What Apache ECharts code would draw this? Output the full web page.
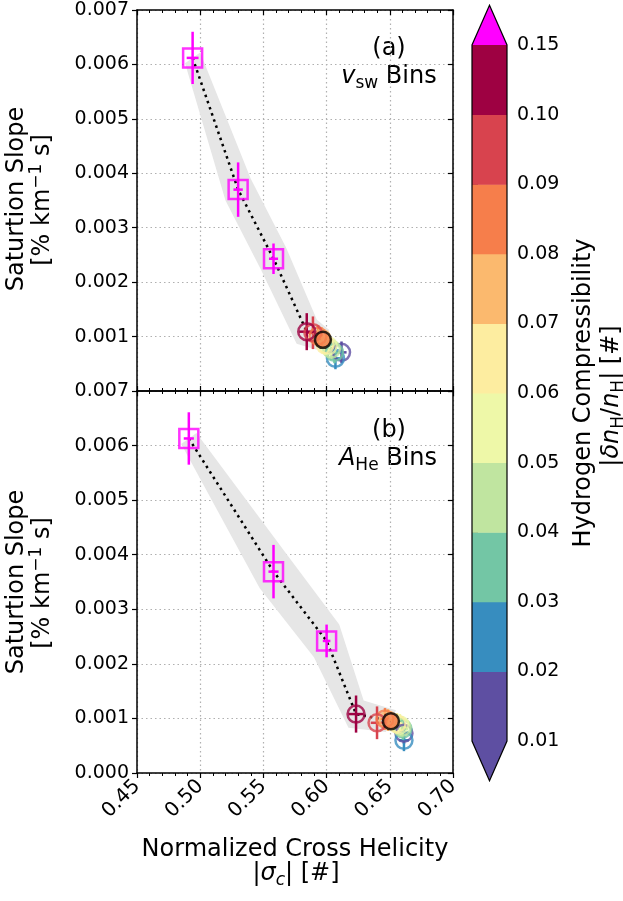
<!DOCTYPE html>
<html>
<head>
<meta charset="utf-8">
<script src="https://cdn.jsdelivr.net/npm/echarts@6/dist/echarts.min.js"></script>
<style>html,body{margin:0;padding:0;background:#fff}#chart{width:623px;height:901px}</style>
</head>
<body>
<div id="chart"></div>
<script>
// compressibility colour bins (colorbar)
var cbBounds = [0.01, 0.02, 0.03, 0.04, 0.05, 0.06, 0.07, 0.08, 0.09, 0.10, 0.15];
var cbLabels = ['0.01', '0.02', '0.03', '0.04', '0.05', '0.06', '0.07', '0.08', '0.09', '0.10', '0.15'];
var cbColors = ['#5e4fa2', '#378dbf', '#73c6a5', '#c0e5a0', '#eef8a8', '#fdeda0', '#fbb96e', '#f67e4b', '#d8434e', '#9e0142'];
var overColor = '#ff00ff';

// (a) vsw bins: squares (compressibility > 0.15)
var aSqX = [0.494, 0.530, 0.558];
var aSqY = [0.00612, 0.00370, 0.00243];
var aSqXErr = [0.0047, 0.0037, 0.0036];
var aSqYErr = [0.00048, 0.00050, 0.00028];
// (a) circles
var aCircC = [0.015, 0.025, 0.035, 0.045, 0.055, 0.065, 0.075, 0.085, 0.095, 0.12];
var aCircX = [0.6118, 0.6070, 0.6062, 0.6038, 0.6013, 0.5989, 0.5961, 0.5932, 0.5892, 0.5843];
var aCircY = [0.00071, 0.00060, 0.00071, 0.00077, 0.00083, 0.00085, 0.00097, 0.00101, 0.00107, 0.00109];
var aCircXErr = [0.004, 0.004, 0.004, 0.004, 0.004, 0.004, 0.004, 0.004, 0.005, 0.006];
var aCircYErr = [0.0002, 0.0002, 0.0002, 0.0002, 0.0002, 0.0002, 0.0002, 0.0002, 0.0003, 0.00034];
var aMean = [0.5971, 0.00094];
// (a) fit line and shaded band
var aPathX = [0.494, 0.530, 0.558, 0.5843, 0.5971];
var aPathY = [0.00612, 0.00370, 0.00243, 0.00109, 0.00094];
var aBandX = [0.006, 0.010, 0.010, 0.008, 0.005];
var aBandY = [0.0001, 0.0002, 0.0002, 0.00022, 0.00018];

// (b) AHe bins
var bSqX = [0.491, 0.558, 0.600];
var bSqY = [0.00613, 0.00369, 0.00242];
var bSqXErr = [0.004, 0.004, 0.003];
var bSqYErr = [0.00048, 0.00049, 0.00030];
var bCircC = [0.015, 0.025, 0.035, 0.045, 0.055, 0.065, 0.075, 0.085, 0.095, 0.12];
var bCircX = [0.6612, 0.6612, 0.6604, 0.6596, 0.6580, 0.6557, 0.6486, 0.6462, 0.6399, 0.6233];
var bCircY = [0.00073, 0.00060, 0.00081, 0.00084, 0.00088, 0.00090, 0.00097, 0.00099, 0.00092, 0.00108];
var bCircXErr = [0.004, 0.004, 0.004, 0.004, 0.004, 0.004, 0.004, 0.004, 0.005, 0.006];
var bCircYErr = [0.0002, 0.0002, 0.0002, 0.0002, 0.0002, 0.0002, 0.0002, 0.0002, 0.0003, 0.00034];
var bMean = [0.6509, 0.00095];
var bPathX = [0.491, 0.558, 0.600, 0.6233, 0.6509];
var bPathY = [0.00613, 0.00369, 0.00242, 0.00108, 0.00095];
var bBandX = [0.006, 0.011, 0.010, 0.006, 0.004];
var bBandY = [0.0001, 0.0003, 0.0003, 0.00025, 0.0002];

var FONT = 'DejaVu Sans';

function compColor(v) {
    if (v > cbBounds[cbBounds.length - 1]) return overColor;
    for (var i = 0; i < cbColors.length; i++) {
        if (v < cbBounds[i + 1]) return cbColors[i];
    }
    return cbColors[cbColors.length - 1];
}

function bandSeries(ax, px, py, bx, by) {
    return {
        type: 'custom', xAxisIndex: ax, yAxisIndex: ax, z: 1, silent: true,
        data: [[0]],
        renderItem: function (params, api) {
            var pts = [];
            for (var i = 0; i < px.length; i++) pts.push(api.coord([px[i] + bx[i], py[i] + by[i]]));
            for (var j = px.length - 1; j >= 0; j--) pts.push(api.coord([px[j] - bx[j], py[j] - by[j]]));
            return { type: 'polygon', shape: { points: pts }, style: { fill: '#e6e6e6' } };
        }
    };
}

function lineSeries(ax, px, py) {
    return {
        type: 'line', xAxisIndex: ax, yAxisIndex: ax, z: 2, symbol: 'none', silent: true,
        data: px.map(function (x, i) { return [x, py[i]]; }),
        lineStyle: { color: '#000', width: 2.5, type: [2.5, 4], cap: 'butt' }
    };
}

function errSeries(ax, xs, ys, xe, ye, cols) {
    return {
        type: 'custom', xAxisIndex: ax, yAxisIndex: ax, z: 3, silent: true,
        data: xs.map(function (x, i) { return [x, ys[i], xe[i], ye[i], i]; }),
        renderItem: function (params, api) {
            var x = api.value(0), y = api.value(1), dx = api.value(2), dy = api.value(3);
            var c = cols[api.value(4)];
            var p1 = api.coord([x, y - dy]), p2 = api.coord([x, y + dy]);
            var p3 = api.coord([x - dx, y]), p4 = api.coord([x + dx, y]);
            return {
                type: 'group', children: [
                    { type: 'line', shape: { x1: p1[0], y1: p1[1], x2: p2[0], y2: p2[1] }, style: { stroke: c, lineWidth: 2.5 } },
                    { type: 'line', shape: { x1: p3[0], y1: p3[1], x2: p4[0], y2: p4[1] }, style: { stroke: c, lineWidth: 2.5 } }
                ]
            };
        }
    };
}

function markerSeries(ax, xs, ys, cols, symbol, size) {
    return {
        type: 'scatter', xAxisIndex: ax, yAxisIndex: ax, z: 4, silent: true,
        symbol: symbol, symbolSize: size,
        data: xs.map(function (x, i) {
            return { value: [x, ys[i]], itemStyle: { color: 'rgba(0,0,0,0)', borderColor: cols[i], borderWidth: 2.5 } };
        })
    };
}

function meanSeries(ax, m) {
    return {
        type: 'scatter', xAxisIndex: ax, yAxisIndex: ax, z: 5, silent: true,
        symbol: 'circle', symbolSize: 16,
        data: [{ value: m, itemStyle: { color: compColor(0.085), borderColor: '#000', borderWidth: 2.5 } }]
    };
}

function panelSeries(ax, sqX, sqY, sqXE, sqYE, cX, cY, cXE, cYE, cC, mean, pX, pY, bX, bY) {
    var sqCols = sqX.map(function () { return overColor; });
    var cCols = cC.map(compColor);
    return [
        bandSeries(ax, pX, pY, bX, bY),
        lineSeries(ax, pX, pY),
        errSeries(ax, sqX, sqY, sqXE, sqYE, sqCols),
        errSeries(ax, cX, cY, cXE, cYE, cCols),
        markerSeries(ax, sqX, sqY, sqCols, 'rect', 19),
        markerSeries(ax, cX, cY, cCols, 'circle', 17),
        meanSeries(ax, mean)
    ];
}

var splitStyle = { show: true, lineStyle: { color: '#b0b0b0', width: 1.2, type: [1.5, 3] } };
var axLine = { show: true, onZero: false, lineStyle: { color: '#000', width: 1.5 } };

function xAx(grid, pos, labels) {
    return {
        type: 'value', gridIndex: grid, position: pos, min: 0.45, max: 0.70, interval: 0.05,
        axisLine: axLine,
        axisTick: { show: true, inside: pos === 'top' || !labels, length: 5, lineStyle: { color: '#000', width: 1.2 } },
        minorTick: { show: true, splitNumber: 5, length: 3, lineStyle: { color: '#000', width: 1 } },
        axisLabel: {
            show: labels, rotate: 45, margin: 10, fontFamily: FONT, fontSize: 20, color: '#000',
            formatter: function (v) { return v.toFixed(2); }
        },
        splitLine: pos === 'bottom' ? splitStyle : { show: false }
    };
}

function yAx(grid, pos, labels, showMin) {
    return {
        type: 'value', gridIndex: grid, position: pos, min: 0, max: 0.007, interval: 0.001,
        axisLine: axLine,
        axisTick: { show: true, inside: pos === 'right', length: 5, lineStyle: { color: '#000', width: 1.2 } },
        axisLabel: {
            show: labels, showMinLabel: showMin, margin: 8, fontFamily: FONT, fontSize: 19, color: '#000',
            formatter: function (v) { return v.toFixed(3); }
        },
        splitLine: pos === 'left' ? splitStyle : { show: false }
    };
}

var baseRich = {
    n: { fontFamily: FONT, fontSize: 24, lineHeight: 30, color: '#000' },
    i: { fontFamily: FONT, fontSize: 24, lineHeight: 30, fontStyle: 'italic', color: '#000' },
    sub: { fontFamily: FONT, fontSize: 17, lineHeight: 15, verticalAlign: 'bottom', color: '#000' },
    isub: { fontFamily: FONT, fontSize: 17, lineHeight: 15, verticalAlign: 'bottom', fontStyle: 'italic', color: '#000' },
    sup: { fontFamily: FONT, fontSize: 17, lineHeight: 14, verticalAlign: 'top', color: '#000' }
};

function txt(x, y, text, rot, align) {
    return {
        type: 'text', x: x, y: y, rotation: rot || 0, silent: true,
        style: { text: text, rich: baseRich, align: align || 'center', verticalAlign: 'middle', fontFamily: FONT, fontSize: 24, fill: '#000' }
    };
}

var dom = document.getElementById('chart');
var myChart = echarts.init(dom);
var R = Math.PI / 2;

option = {
    animation: false,
    backgroundColor: '#fff',
    grid: [
        { left: 137, top: 10, width: 316, height: 381 },
        { left: 137, top: 391, width: 316, height: 382 },
        { left: 472, top: 45, width: 35, height: 696 }
    ],
    xAxis: [
        xAx(0, 'bottom', false),
        xAx(1, 'bottom', true),
        { type: 'value', gridIndex: 2, min: 0, max: 1, show: false },
        xAx(0, 'top', false),
        xAx(1, 'top', false)
    ],
    yAxis: [
        yAx(0, 'left', true, false),
        yAx(1, 'left', true, true),
        {
            type: 'value', gridIndex: 2, position: 'right', min: 0, max: 10, interval: 1,
            axisLine: { show: false },
            axisTick: { show: true, length: 6, lineStyle: { color: '#000', width: 1.2 } },
            axisLabel: { margin: 10, fontFamily: FONT, fontSize: 19, color: '#000', formatter: function (v) { return cbLabels[v]; } },
            splitLine: { show: false }
        },
        yAx(0, 'right', false, false),
        yAx(1, 'right', false, false)
    ],
    graphic: [
        txt(389, 49, '(a)'),
        txt(389, 77, '{i|v}{sub|sw}{n| Bins}'),
        txt(389, 431, '(b)'),
        txt(388, 459, '{i|A}{sub|He}{n| Bins}'),
        txt(17, 199, 'Saturtion Slope', R),
        txt(43, 200, '{n|[% km}{sup|−1}{n| s]}', R),
        txt(17, 582, 'Saturtion Slope', R),
        txt(43, 583, '{n|[% km}{sup|−1}{n| s]}', R),
        txt(295, 850, 'Normalized Cross Helicity'),
        txt(296, 874, '{n||}{i|σ}{isub|c}{n|| [#]}'),
        txt(584, 393, 'Hydrogen Compressibility', R),
        txt(612, 396, '{n||}{i|δn}{sub|H}{n|/}{i|n}{sub|H}{n|| [#]}', R)
    ],
    series: panelSeries(0, aSqX, aSqY, aSqXErr, aSqYErr, aCircX, aCircY, aCircXErr, aCircYErr, aCircC, aMean, aPathX, aPathY, aBandX, aBandY)
        .concat(panelSeries(1, bSqX, bSqY, bSqXErr, bSqYErr, bCircX, bCircY, bCircXErr, bCircYErr, bCircC, bMean, bPathX, bPathY, bBandX, bBandY))
        .concat([
            {
                // colorbar cells
                type: 'custom', xAxisIndex: 2, yAxisIndex: 2, silent: true,
                data: cbColors.map(function (c, i) { return [i]; }),
                renderItem: function (params, api) {
                    var i = api.value(0);
                    var p0 = api.coord([0, i]), p1 = api.coord([1, i + 1]);
                    return { type: 'rect', shape: { x: p0[0], y: p1[1], width: p1[0] - p0[0], height: p0[1] - p1[1] + 0.5 }, style: { fill: cbColors[i] } };
                }
            },
            {
                // extension triangles (over / under)
                type: 'custom', xAxisIndex: 2, yAxisIndex: 2, silent: true, clip: false,
                data: [[10, 1], [0, -1]],
                renderItem: function (params, api) {
                    var b = api.value(0), d = api.value(1);
                    var pts = [api.coord([0, b]), api.coord([0.5, b + d * 0.57]), api.coord([1, b])];
                    return { type: 'polygon', shape: { points: pts }, style: { fill: d > 0 ? overColor : cbColors[0] } };
                }
            },
            {
                // colorbar outline
                type: 'custom', xAxisIndex: 2, yAxisIndex: 2, silent: true, clip: false, z: 3,
                data: [[0]],
                renderItem: function (params, api) {
                    var pts = [api.coord([0, 0]), api.coord([0, 10]), api.coord([0.5, 10.57]), api.coord([1, 10]), api.coord([1, 0]), api.coord([0.5, -0.57])];
                    return { type: 'polygon', shape: { points: pts }, style: { fill: 'none', stroke: '#000', lineWidth: 1.2 } };
                }
            }
        ])
};

if (option && typeof option === "object") {
    myChart.setOption(option, true);
}
</script>
</body>
</html>
